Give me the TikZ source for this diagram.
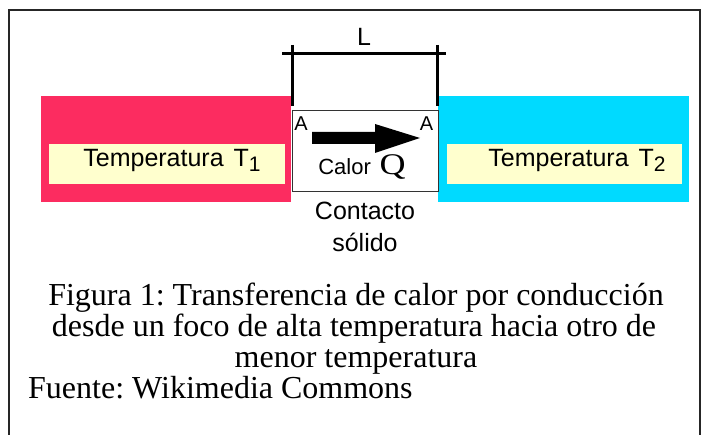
\documentclass[tikz,border=0pt]{standalone}
\usepackage{fontspec}
\setmainfont{Liberation Serif}
\setsansfont{Liberation Sans}
\definecolor{hotpink}{RGB}{252,44,96}
\definecolor{coldcyan}{RGB}{0,218,255}
\definecolor{cream}{RGB}{255,255,206}
\frenchspacing
\begin{document}
\begin{tikzpicture}[x=1pt,y=-1pt,
  sanslbl/.style={font=\sffamily\fontsize{25}{30}\selectfont, inner sep=0pt, anchor=base},
  smalllbl/.style={font=\sffamily\fontsize{20}{22}\selectfont, inner sep=0pt, anchor=base},
  caplbl/.style={font=\rmfamily\fontsize{32}{32}\selectfont, inner sep=0pt, anchor=base},
  dimline/.style={line width=3pt}]
\useasboundingbox (0,0) rectangle (704,435);
% outer frame
\draw[line width=1.3pt, black!85] (9,440) -- (9,10) -- (700,10) -- (700,440);
% hot and cold blocks
\fill[hotpink] (41,96) rectangle (291,202);
\fill[coldcyan] (438,96) rectangle (689,202);
\fill[cream] (49,144) rectangle (285,184);
\fill[cream] (447,144) rectangle (682,184);
% contact box
\node[draw=black!80, line width=0.9pt, fill=white, minimum width=146pt, minimum height=81pt, inner sep=0pt] (contact) at (365,150.5) {};
% dimension L
\coordinate (dl) at (282,54);
\coordinate (dr) at (446,54);
\coordinate (tlt) at (292,45);
\coordinate (tlb) at (292,106);
\coordinate (trt) at (437,45);
\coordinate (trb) at (437,106);
\draw[dimline] (dl) -- (dr);
\draw[dimline] (tlt) -- (tlb);
\draw[dimline] (trt) -- (trb);
\node[sanslbl, font=\sffamily\fontsize{25}{28}\selectfont] (L) at (364,46) {L};
% A labels
\node[smalllbl] (A1) at (301,131) {A};
\node[smalllbl] (A2) at (426.5,131) {A};
% heat arrow
\fill[black] (312,132) -- (375,132) -- (375,124) -- (420,138) -- (375,153) -- (375,144) -- (312,144) -- cycle;
% texts
\node[sanslbl] (t1) at (172,167) {Temperatura\hspace{0.4em}T\raisebox{-0.32ex}{\fontsize{21}{22}\selectfont 1}};
\node[sanslbl] (t2) at (577,167) {Temperatura\hspace{0.4em}T\raisebox{-0.32ex}{\fontsize{21}{22}\selectfont 2}};
\node[sanslbl, font=\sffamily\fontsize{22}{26}\selectfont] (calor) at (362,175) {Calor\hspace{0.4em}{\rmfamily\fontsize{30}{32}\selectfont\scalebox{1.2}[1]{Q}}};
\node[sanslbl] (c1) at (365,220) {Contacto};
\node[sanslbl] (c2) at (365,252) {sólido};
% caption
\node[caplbl] (cap1) at (356,306) {Figura 1: Transferencia de calor por conducción};
\node[caplbl] (cap2) at (354,337) {desde un foco de alta temperatura hacia otro de};
\node[caplbl] (cap3) at (356,368) {menor temperatura};
\node[caplbl, anchor=base west] (src) at (28,399) {Fuente: Wikimedia Commons};
\end{tikzpicture}
\end{document}
